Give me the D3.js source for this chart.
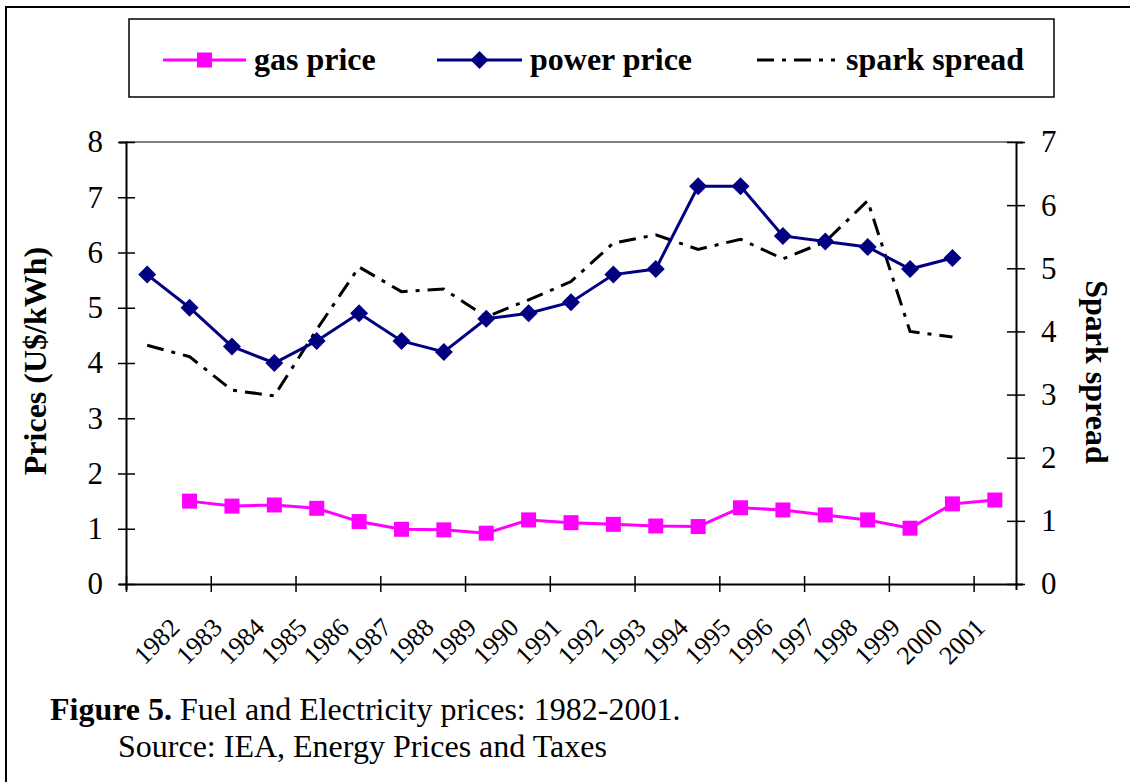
<!DOCTYPE html>
<html>
<head>
<meta charset="utf-8">
<script src="https://cdn.jsdelivr.net/npm/d3@7"></script>
<style>
  body { margin: 0; background: #fff; }
  svg text { font-family: "Liberation Serif", "Times New Roman", serif; }
</style>
</head>
<body>
<svg id="chart" width="1130" height="782"></svg>
<script>
// categories (the last slot has no label, as in the original sheet)
const years = ["1982","1983","1984","1985","1986","1987","1988","1989","1990","1991",
               "1992","1993","1994","1995","1996","1997","1998","1999","2000","2001",""]
const gasPrice   = [null,1.50,1.41,1.43,1.37,1.13,0.99,0.98,0.92,1.16,1.11,1.08,1.05,1.04,1.38,1.34,1.25,1.16,1.01,1.45,1.52]
const powerPrice = [5.6,5.0,4.3,4.0,4.4,4.9,4.4,4.2,4.8,4.9,5.1,5.6,5.7,7.2,7.2,6.3,6.2,6.1,5.7,5.9,null]
const sparkSpread = [3.78,3.60,3.07,2.98,4.03,5.02,4.63,4.67,4.23,4.50,4.79,5.40,5.53,5.30,5.46,5.15,5.42,6.07,4.00,3.91,null]
const leftTicks = [0,1,2,3,4,5,6,7,8]
const rightTicks = [0,1,2,3,4,5,6,7]

const svg = d3.select("#chart")
const plotL = 126, plotR = 1016, plotT = 142, plotB = 584
const dashDot = "17,8,4,8"

// outer frame (runs off the picture at right and bottom)
svg.append("rect")
    .attr("x", 6).attr("y", 7).attr("width", 1140).attr("height", 800)
    .attr("fill", "none").attr("stroke", "#000").attr("stroke-width", 2)

const x = d3.scaleBand().domain(d3.range(years.length)).range([plotL, plotR]).padding(0)
const cx = i => x(i) + x.bandwidth() / 2
const yL = d3.scaleLinear().domain([0, 8]).range([plotB, plotT])
const yR = d3.scaleLinear().domain([0, 7]).range([plotB, plotT])

// plot area top border
svg.append("line")
    .attr("x1", plotL).attr("x2", plotR).attr("y1", plotT).attr("y2", plotT)
    .attr("stroke", "#808080").attr("stroke-width", 2)

// left axis
const gl = svg.append("g")
    .attr("transform", `translate(${plotL},0)`)
    .call(d3.axisLeft(yL).tickValues(leftTicks).tickFormat(d3.format("d")).tickSize(7).tickPadding(16))
gl.selectAll(".tick line").attr("x2", -8).attr("x1", 9)
// right axis
const gr = svg.append("g")
    .attr("transform", `translate(${plotR},0)`)
    .call(d3.axisRight(yR).tickValues(rightTicks).tickFormat(d3.format("d")).tickSize(7).tickPadding(18))
gr.selectAll(".tick line").attr("x1", -9).attr("x2", 9)

// bottom axis: tick marks every second category boundary
const xl = d3.scaleLinear().domain([0, years.length]).range([plotL, plotR])
const gb = svg.append("g")
    .attr("transform", `translate(0,${plotB})`)
    .call(d3.axisBottom(xl).tickValues(d3.range(0, years.length + 1, 2)).tickFormat(""))
gb.selectAll(".tick line").attr("y1", -8).attr("y2", 8)

svg.selectAll(".domain").attr("stroke", "#000").attr("stroke-width", 2)
svg.selectAll(".tick line").attr("stroke", "#000").attr("stroke-width", 1.5)
svg.selectAll(".tick text").attr("font-size", 31).attr("fill", "#000")
  .style("font-family", '"Liberation Serif", serif')

// year labels
svg.append("g").selectAll("text")
    .data(years.filter(d => d !== ""))
    .join("text")
    .attr("transform", (d, i) => `translate(${cx(i) + 34},629) rotate(-45)`)
    .attr("text-anchor", "end")
    .attr("font-size", 26)
    .text(d => d)

// axis titles
svg.append("text")
    .attr("transform", `translate(46,${(plotT + plotB) / 2 - 2}) rotate(-90)`)
    .attr("text-anchor", "middle").attr("font-size", 32).attr("font-weight", "bold")
    .text("Prices (U$/kWh)")
svg.append("text")
    .attr("transform", `translate(1086,${(plotT + plotB) / 2 + 9}) rotate(90)`)
    .attr("text-anchor", "middle").attr("font-size", 32).attr("font-weight", "bold")
    .text("Spark spread")

// series
const idx = d3.range(years.length)
svg.append("path").datum(idx)
    .attr("fill", "none").attr("stroke", "#ff00ff").attr("stroke-width", 3)
    .attr("d", d3.line().defined(i => gasPrice[i] != null).x(cx).y(i => yL(gasPrice[i])))

svg.append("path").datum(idx)
    .attr("fill", "none").attr("stroke", "#000")
    .attr("stroke-width", 3).attr("stroke-dasharray", dashDot)
    .attr("d", d3.line().defined(i => sparkSpread[i] != null).x(cx).y(i => yR(sparkSpread[i])))

svg.append("path").datum(idx)
    .attr("fill", "none").attr("stroke", "#000080").attr("stroke-width", 3)
    .attr("d", d3.line().defined(i => powerPrice[i] != null).x(cx).y(i => yL(powerPrice[i])))

const square = d3.symbol().type(d3.symbolSquare).size(225)
const diamond = "M0,-9L9,0L0,9L-9,0Z"

svg.append("g").selectAll("path")
    .data(idx.filter(i => gasPrice[i] != null))
    .join("path")
    .attr("transform", i => `translate(${cx(i)},${yL(gasPrice[i])})`)
    .attr("d", square).attr("fill", "#ff00ff")

svg.append("g").selectAll("path")
    .data(idx.filter(i => powerPrice[i] != null))
    .join("path")
    .attr("transform", i => `translate(${cx(i)},${yL(powerPrice[i])})`)
    .attr("d", diamond).attr("fill", "#000080")

// legend
const legend = svg.append("g")
legend.append("rect")
    .attr("x", 129).attr("y", 19).attr("width", 925).attr("height", 78)
    .attr("fill", "#fff").attr("stroke", "#000").attr("stroke-width", 1.5)

const items = [
  {name: "gas price", x0: 163, x1: 246, color: "#ff00ff", mark: square, dash: null, tx: 254},
  {name: "power price", x0: 437, x1: 522, color: "#000080", mark: diamond, dash: null, tx: 530},
  {name: "spark spread", x0: 757, x1: 835, color: "#000", mark: null, dash: dashDot, tx: 846}
]
items.forEach(it => {
  legend.append("line")
      .attr("x1", it.x0).attr("x2", it.x1).attr("y1", 60).attr("y2", 60)
      .attr("stroke", it.color).attr("stroke-width", 3)
      .attr("stroke-dasharray", it.dash)
  if (it.mark) legend.append("path")
      .attr("transform", `translate(${(it.x0 + it.x1) / 2},60)`)
      .attr("d", it.mark).attr("fill", it.color)
  legend.append("text")
      .attr("x", it.tx).attr("y", 70)
      .attr("font-size", 32).attr("font-weight", "bold")
      .text(it.name)
})

// caption
const cap = svg.append("text").attr("x", 50).attr("y", 720).attr("font-size", 32)
cap.append("tspan").attr("font-weight", "bold").text("Figure 5.")
cap.append("tspan").text(" Fuel and Electricity prices: 1982-2001.")
svg.append("text").attr("x", 118).attr("y", 757).attr("font-size", 32)
    .text("Source: IEA, Energy Prices and Taxes")
</script>
</body>
</html>
